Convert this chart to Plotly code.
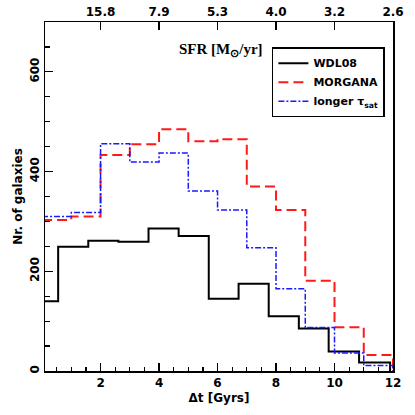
import plotly.graph_objects as go

# ---- data ----
bin_edges = [0, 1, 2, 3, 4, 5, 6, 7, 8, 9, 10, 11, 12]
morgana = [303, 310, 433, 455, 485, 461, 465, 370, 323, 181, 88, 32]
longer_tsat = [310, 318, 456, 419, 437, 361, 323, 247, 165, 87, 36, 11]

wdl08_edges = [0.0, 0.55, 1.58, 2.61, 3.64, 4.67, 5.70, 6.72, 7.75, 8.78, 9.80, 10.84, 11.90]
wdl08 = [140, 249, 261, 259, 286, 271, 145, 175, 110, 85, 39, 17]

bottom_ticks = [2, 4, 6, 8, 10, 12]
top_tick_labels = ["15.8", "7.9", "5.3", "4.0", "3.2", "2.6"]
y_ticks = [0, 200, 400, 600]


def step(edges, counts):
    xs = list(edges) + [edges[-1]]
    ys = list(counts) + [counts[-1], 0]
    return xs, ys


FONT = dict(family="DejaVu Sans", size=12, color="black", weight="bold")

fig = go.Figure()

x, y = step(wdl08_edges, wdl08)
fig.add_trace(go.Scatter(x=x, y=y, mode="lines", line_shape="hv", name="WDL08",
                         line=dict(color="black", width=2)))
x, y = step(bin_edges, morgana)
fig.add_trace(go.Scatter(x=x, y=y, mode="lines", line_shape="hv", name="MORGANA",
                         line=dict(color="#ff1a1a", width=2, dash="10px,5px")))
x, y = step(bin_edges, longer_tsat)
fig.add_trace(go.Scatter(x=x, y=y, mode="lines", line_shape="hv",
                         name="longer τ<sub>sat</sub>",
                         line=dict(color="#1a1aff", width=1.5, dash="6px,2px,2px,2px")))
# transparent copy on the top axis so that the top (SFR) axis is drawn
fig.add_trace(go.Scatter(x=x, y=y, xaxis="x2", mode="lines", line_shape="hv",
                         line=dict(color="rgba(0,0,0,0)", width=0),
                         showlegend=False, hoverinfo="skip"))

fig.update_layout(
    width=415, height=415,
    margin=dict(l=45, r=22, t=22, b=44),
    paper_bgcolor="white", plot_bgcolor="white",
    font=FONT,
    showlegend=True,
    legend=dict(x=0.652, y=0.928, xanchor="left", yanchor="top",
                bgcolor="white", bordercolor="black", borderwidth=1.5,
                font=dict(family="DejaVu Sans", size=11, color="black", weight="bold"),
                tracegroupgap=0, itemwidth=30),
    xaxis=dict(range=[0.1, 12], tickvals=bottom_ticks, ticks="inside", ticklen=8,
               tickwidth=1.2, tickcolor="black", showline=True, linecolor="black",
               linewidth=1.5, mirror=False, showgrid=False, zeroline=False,
               automargin=False,
               minor=dict(dtick=0.5, tick0=0, ticks="inside", ticklen=4, tickcolor="black"),
               title=dict(text="Δt [Gyrs]", standoff=4, font=FONT), tickfont=FONT),
    xaxis2=dict(range=[0.1, 12], overlaying="x", side="top", tickvals=bottom_ticks,
                ticktext=top_tick_labels, ticks="inside", ticklen=8, tickwidth=1.2,
                tickcolor="black", showline=True, linecolor="black", linewidth=1.5,
                showgrid=False, zeroline=False, tickfont=FONT, automargin=False),
    yaxis=dict(range=[0, 700], tickvals=y_ticks, ticks="inside", ticklen=8,
               tickwidth=1.2, tickcolor="black", showline=True, linecolor="black",
               linewidth=1.5, mirror=True, showgrid=False, zeroline=False,
               tickangle=-90, tickfont=FONT, automargin=False,
               minor=dict(dtick=50, tick0=0, ticks="inside", ticklen=5, tickcolor="black"),
               title=dict(text="Nr. of galaxies", standoff=2, font=FONT)),
    annotations=[dict(text="SFR [M<sub>⊙</sub>/yr]", x=0.506, y=0.92, xref="paper",
                      yref="paper", showarrow=False, xanchor="center", yanchor="middle",
                      font=dict(family="Liberation Serif", size=15, color="black"))],
)

fig.write_html("out.html",
               config={"displayModeBar": False, "staticPlot": True},
               post_script="document.body.style.margin='0px';"
                           "document.body.style.overflow='hidden';")
